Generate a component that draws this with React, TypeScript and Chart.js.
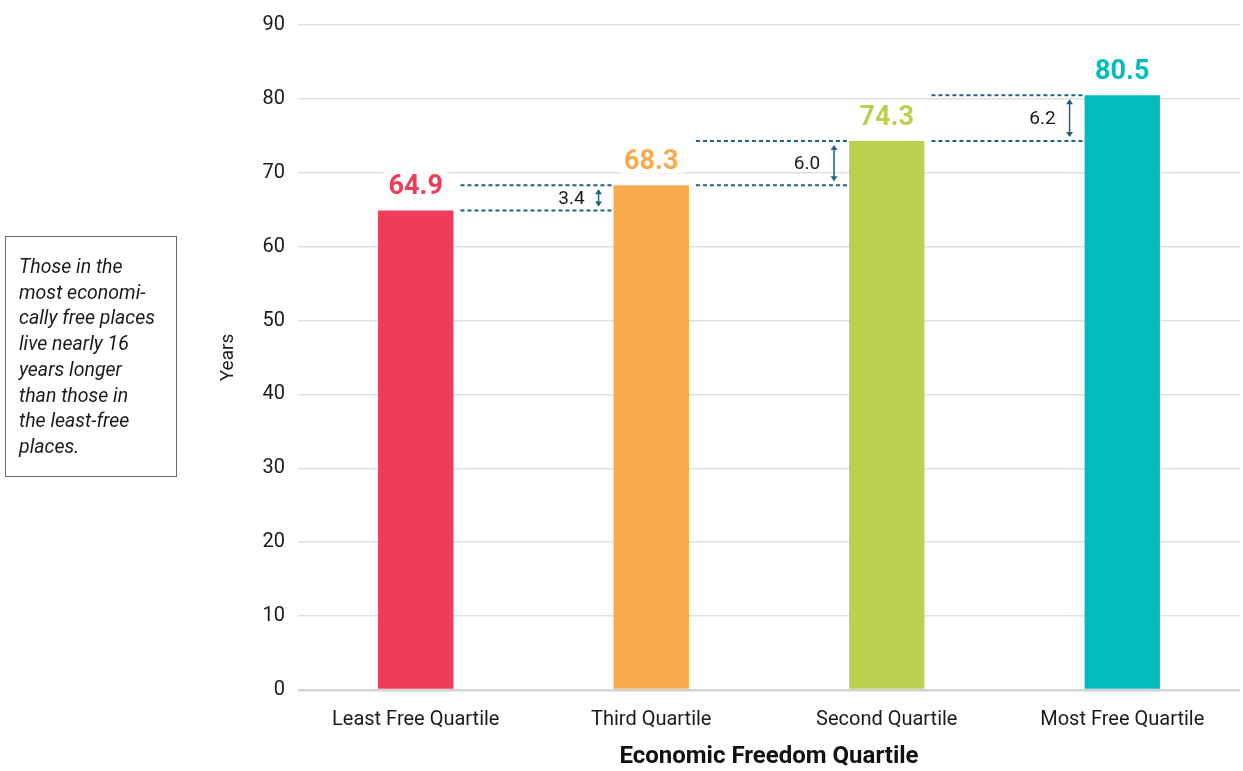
import React, { useEffect, useRef } from "react";
import { Chart, registerables } from "chart.js";

Chart.register(...registerables);

const categories = ["Least Free Quartile", "Third Quartile", "Second Quartile", "Most Free Quartile"];
const lifeExpectancy = [64.9, 68.3, 74.3, 80.5];
const valueLabels = ["64.9", "68.3", "74.3", "80.5"];
const gapLabels = ["3.4", "6.0", "6.2"];
const barColors = ["#EF3C58", "#F8AA4C", "#BCD04F", "#00BCBC"];
const yTicks = [0, 10, 20, 30, 40, 50, 60, 70, 80, 90];
const yTitle = "Years";
const xTitle = "Economic Freedom Quartile";
const noteText =
  "Those in the most economi-cally free places live nearly 16 years longer than those in the least-free places.";
const noteLines = [
  "Those in the",
  "most economi-",
  "cally free places",
  "live nearly 16",
  "years longer",
  "than those in",
  "the least-free",
  "places.",
];

const FONT = "Roboto, 'Noto Sans', sans-serif";
const ANNO = "#22627F";

const annotationPlugin = {
  id: "annotations",
  afterDatasetsDraw(chart: any) {
    const ctx = chart.ctx as CanvasRenderingContext2D;
    const meta = chart.getDatasetMeta(0);
    const yScale = chart.scales.y;
    ctx.save();
    for (let i = 0; i < lifeExpectancy.length - 1; i++) {
      const b1 = meta.data[i];
      const b2 = meta.data[i + 1];
      const w = b1.width;
      const x0 = b1.x + w / 2 + 7;
      const x1 = b2.x - w / 2 - 2;
      const yLow = yScale.getPixelForValue(lifeExpectancy[i]);
      const yHigh = yScale.getPixelForValue(lifeExpectancy[i + 1]);
      ctx.strokeStyle = ANNO;
      ctx.lineWidth = 2;
      ctx.setLineDash([4, 3]);
      ctx.beginPath();
      ctx.moveTo(x0, yLow);
      ctx.lineTo(x1, yLow);
      ctx.moveTo(x0, yHigh);
      ctx.lineTo(x1, yHigh);
      ctx.stroke();
      ctx.setLineDash([]);
      const ax = b2.x - w / 2 - 15;
      const top = yHigh + 4;
      const bot = yLow - 4;
      ctx.lineWidth = 1.5;
      ctx.beginPath();
      ctx.moveTo(ax, top + 1);
      ctx.lineTo(ax, bot - 1);
      ctx.stroke();
      ctx.fillStyle = ANNO;
      ctx.beginPath();
      ctx.moveTo(ax, top);
      ctx.lineTo(ax - 3.5, top + 5);
      ctx.lineTo(ax + 3.5, top + 5);
      ctx.closePath();
      ctx.fill();
      ctx.beginPath();
      ctx.moveTo(ax, bot);
      ctx.lineTo(ax - 3.5, bot - 5);
      ctx.lineTo(ax + 3.5, bot - 5);
      ctx.closePath();
      ctx.fill();
      ctx.fillStyle = "#1a1a1a";
      ctx.font = `19px ${FONT}`;
      ctx.textAlign = "right";
      ctx.textBaseline = "middle";
      ctx.fillText(gapLabels[i], ax - 14, (yLow + yHigh) / 2 + 1);
    }
    ctx.font = `bold 27px ${FONT}`;
    ctx.textAlign = "center";
    ctx.textBaseline = "alphabetic";
    for (let i = 0; i < lifeExpectancy.length; i++) {
      const bar = meta.data[i];
      const baseY = bar.y - 16;
      const tw = ctx.measureText(valueLabels[i]).width;
      ctx.fillStyle = "#ffffff";
      ctx.fillRect(bar.x - tw / 2 - 4, baseY - 24, tw + 8, 28);
      ctx.fillStyle = barColors[i];
      ctx.fillText(valueLabels[i], bar.x, baseY);
    }
    ctx.restore();
  },
};

export default function App() {
  const canvasRef = useRef<HTMLCanvasElement | null>(null);

  useEffect(() => {
    if (!canvasRef.current) return;
    const chart = new Chart(canvasRef.current, {
      type: "bar",
      data: {
        labels: categories,
        datasets: [
          {
            label: yTitle,
            data: lifeExpectancy,
            backgroundColor: barColors,
            barPercentage: 0.32,
            categoryPercentage: 1,
          },
        ],
      },
      options: {
        responsive: false,
        animation: false,
        devicePixelRatio: 1,
        layout: { padding: { left: 200, right: 3, top: 20, bottom: 0 } },
        plugins: {
          legend: { display: false },
          tooltip: { enabled: false },
        },
        scales: {
          x: {
            grid: { display: false },
            border: { display: false },
            ticks: {
              color: "#1a1a1a",
              font: { family: FONT, size: 20 },
              padding: 10,
              maxRotation: 0,
            },
            title: {
              display: true,
              text: xTitle,
              color: "#111",
              font: { family: FONT, size: 24, weight: "bold" },
              padding: { top: 4, bottom: 0 },
            },
            afterFit: (scale: any) => {
              scale.height = 81;
            },
          },
          y: {
            min: 0,
            max: 90,
            afterBuildTicks: (scale: any) => {
              scale.ticks = yTicks.map((v) => ({ value: v }));
            },
            grid: {
              color: (c: any) => (c.tick && c.tick.value === 0 ? "#d2d2d2" : "#e0e0e0"),
              lineWidth: (c: any) => (c.tick && c.tick.value === 0 ? 2.5 : 1.5),
              drawTicks: false,
            },
            border: { display: false },
            ticks: {
              color: "#1a1a1a",
              font: { family: FONT, size: 20 },
              padding: 13,
            },
            title: {
              display: true,
              text: yTitle,
              color: "#1a1a1a",
              font: { family: FONT, size: 19 },
              padding: 17,
            },
            afterFit: (scale: any) => {
              scale.width = 98;
            },
          },
        },
      },
      plugins: [annotationPlugin],
    });
    return () => chart.destroy();
  }, []);

  return (
    <div style={{ position: "absolute", left: 0, top: 0, width: 1243, height: 771, background: "#fff" }}>
      <canvas ref={canvasRef} width={1243} height={771} style={{ display: "block" }} />
      <div
        aria-label={noteText}
        style={{
          position: "absolute",
          left: 5,
          top: 236,
          width: 172,
          height: 241,
          boxSizing: "border-box",
          border: "1px solid #666",
          padding: "17px 0 0 13px",
          fontFamily: FONT,
          fontStyle: "italic",
          fontSize: 19.5,
          lineHeight: "25.7px",
          color: "#1a1a1a",
          whiteSpace: "nowrap",
        }}
      >
        {noteLines.map((l, i) => (
          <div key={i}>{l}</div>
        ))}
      </div>
    </div>
  );
}
